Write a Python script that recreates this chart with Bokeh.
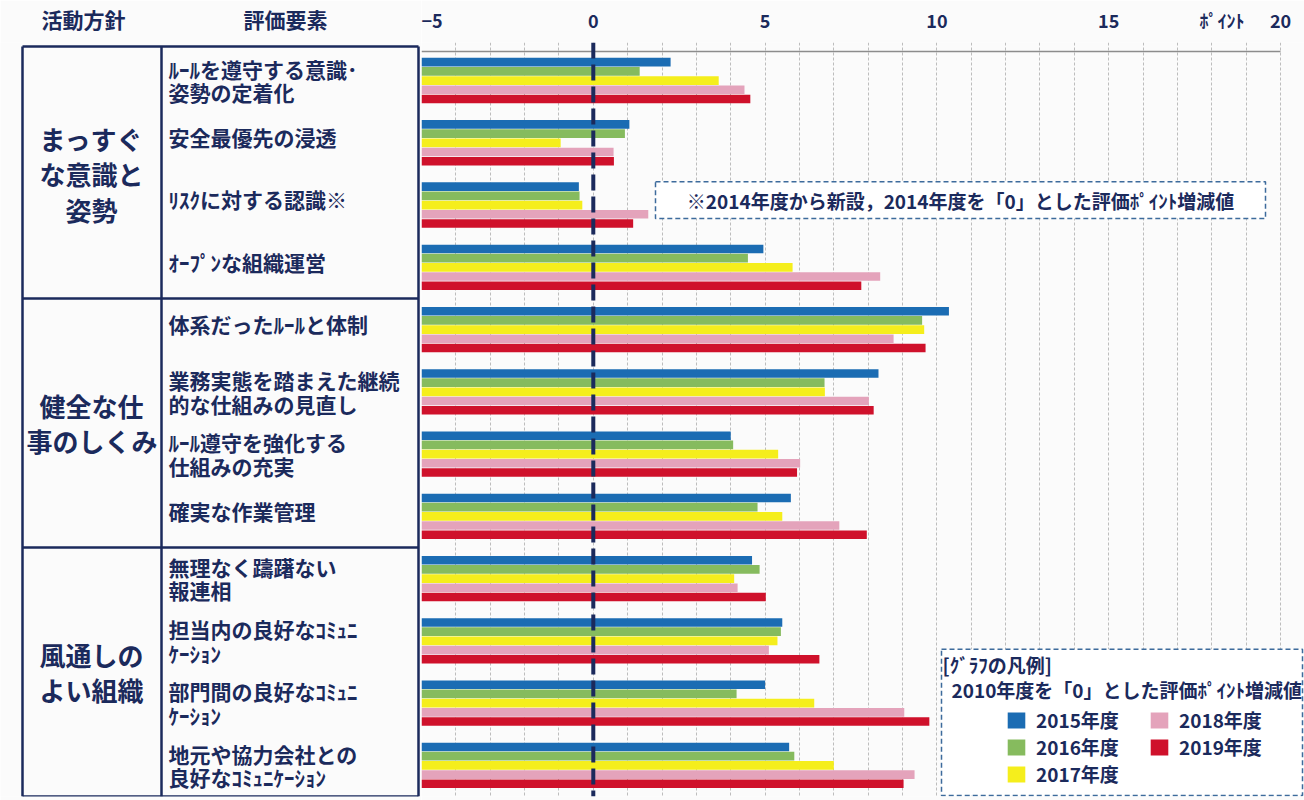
from bokeh.plotting import figure
from bokeh.models import Range1d, FixedTicker, Span, Legend, LegendItem, ColumnDataSource
from bokeh.transform import dodge
from bokeh.layouts import row
from bokeh.core.properties import value
from bokeh.embed import file_html
from bokeh.resources import INLINE

# ---------------- data ----------------
header_labels = ["活動方針", "評価要素"]
policies = ["まっすぐ\nな意識と\n姿勢", "健全な仕\n事のしくみ", "風通しの\nよい組織"]
policy_span = [4, 4, 4]
elements = [
    "ﾙｰﾙを遵守する意識･\n姿勢の定着化",
    "安全最優先の浸透",
    "ﾘｽｸに対する認識※",
    "ｵｰﾌﾟﾝな組織運営",
    "体系だったﾙｰﾙと体制",
    "業務実態を踏まえた継続\n的な仕組みの見直し",
    "ﾙｰﾙ遵守を強化する\n仕組みの充実",
    "確実な作業管理",
    "無理なく躊躇ない\n報連相",
    "担当内の良好なｺﾐｭﾆ\nｹｰｼｮﾝ",
    "部門間の良好なｺﾐｭﾆ\nｹｰｼｮﾝ",
    "地元や協力会社との\n良好なｺﾐｭﾆｹｰｼｮﾝ",
]
years = ["2015年度", "2016年度", "2017年度", "2018年度", "2019年度"]
v2015 = [2.25, 1.05, -0.42, 4.95, 10.35, 8.3, 4.0, 5.75, 4.62, 5.5, 5.0, 5.7]
v2016 = [1.35, 0.92, -0.40, 4.5, 9.57, 6.73, 4.07, 4.78, 4.84, 5.46, 4.17, 5.85]
v2017 = [3.65, -0.95, -0.32, 5.8, 9.63, 6.74, 5.38, 5.5, 4.1, 5.36, 6.43, 7.0]
v2018 = [4.4, 0.59, 1.6, 8.35, 8.74, 8.02, 6.02, 7.16, 4.2, 5.11, 9.05, 9.35]
v2019 = [4.57, 0.6, 1.16, 7.8, 9.67, 8.16, 5.93, 7.96, 5.02, 6.58, 9.78, 9.03]
series = [v2015, v2016, v2017, v2018, v2019]
ticks = [-5, 0, 5, 10, 15, 20]
unit_label = "ﾎﾟｲﾝﾄ"
note_text = "※2014年度から新設，2014年度を「0」とした評価ﾎﾟｲﾝﾄ増減値"
legend_title = ["[ｸﾞﾗﾌの凡例]", "2010年度を「0」とした評価ﾎﾟｲﾝﾄ増減値"]

# ---------------- style / layout ----------------
colors = ["#1b6cb3", "#86bb5e", "#f5ee1c", "#e4a3bb", "#cf112b"]
NAVY = "#1b2a5c"
FONT = value("Noto Sans CJK JP")
BG = "#fbfbfb"
W, H = 1304, 800
SPLIT = 421
X0, X1 = -5, 20
XPX0, XPX1 = 421, 1280
PXU = (XPX1 - XPX0) / (X1 - X0)
TOP, BOT = 45, 796          # pixel rows where category band -0.5 .. N-0.5 lies
TOPF = 38                   # top of drawing frame
N = len(elements)
ROW = (BOT - TOP) / N
BAR_STEP = 0.148
BAR_H = 0.138


def px2x(px):
    return X0 + (px - XPX0) / PXU


def px2y(py):
    return -0.5 + (py - TOP) / ROW


yr = Range1d(px2y(BOT), px2y(TOPF))

# ---------------- chart figure ----------------
p = figure(width=W - SPLIT, height=H, output_backend="svg", toolbar_location=None,
           x_range=Range1d(X0, px2x(W)), y_range=yr,
           x_axis_location="above", y_axis_location=None,
           min_border_top=TOPF, min_border_bottom=H - BOT, min_border_left=0, min_border_right=0,
           background_fill_color=BG, border_fill_color=BG, outline_line_color=None)
p.ygrid.visible = False
p.xgrid.ticker = FixedTicker(ticks=list(range(X0 + 1, X1 + 1)))
p.xgrid.grid_line_color = "#bdbdbd"
p.xgrid.grid_line_width = 1
p.xgrid.grid_line_dash = "3 2"

ax = p.xaxis[0]
ax.ticker = FixedTicker(ticks=ticks + [18.3])
ax.major_label_overrides = {18.3: unit_label}
ax.axis_line_color = None
ax.major_tick_line_color = None
ax.minor_tick_line_color = None
ax.major_label_standoff = 4
ax.major_label_text_font = "Noto Sans CJK JP"
ax.major_label_text_font_style = "bold"
ax.major_label_text_font_size = "18px"
ax.major_label_text_color = NAVY

src = ColumnDataSource(dict(idx=list(range(N)), **{f"s{i}": s for i, s in enumerate(series)}))
renderers = []
for i, col in enumerate(colors):
    off = (i - 2) * BAR_STEP
    r = p.hbar(y=dodge("idx", off, range=p.y_range), left=X0, right=f"s{i}", height=BAR_H,
               fill_color=col, line_color=None, source=src)
    renderers.append(r)

# top border of plot area
p.segment(x0=[X0], x1=[X1], y0=[px2y(47)], y1=[px2y(47)], line_color="#8c8c8c", line_width=1.5)

p.add_layout(Span(location=0, dimension="height", line_color=NAVY, line_width=4, line_dash="16 6"))

# note box
p.quad(left=[px2x(655)], right=[px2x(1265)], top=[px2y(178)], bottom=[px2y(215)],
       fill_color="white", line_color="#3d6b9c", line_dash="5 3", line_width=1.5)
p.text(x=[px2x(960)], y=[px2y(197)], text=[note_text], text_align="center", text_baseline="middle",
       text_font=FONT, text_font_style="bold", text_font_size="19px", text_color=NAVY)

# legend box
p.quad(left=[px2x(941)], right=[px2x(1302)], top=[px2y(648)], bottom=[px2y(795)],
       fill_color="white", line_color="#3d6b9c", line_dash="5 3", line_width=1.5)
p.text(x=[px2x(942), px2x(951)], y=[px2y(663), px2y(688)], text=legend_title,
       text_align="left", text_baseline="middle",
       text_font=FONT, text_font_style="bold", text_font_size="19px", text_color=NAVY)

legend = Legend(items=[LegendItem(label=years[i], renderers=[renderers[i]]) for i in range(len(years))],
                nrows=3, location=(1005 - XPX0, 9), padding=0, margin=0, spacing=0,
                glyph_width=22, glyph_height=20, label_standoff=9, label_width=112, label_height=20,
                label_text_font="Noto Sans CJK JP", label_text_font_style="bold",
                label_text_font_size="19px", label_text_color=NAVY,
                background_fill_alpha=0, border_line_alpha=0)
p.add_layout(legend)

# ---------------- table figure ----------------
t = figure(width=SPLIT, height=H, output_backend="svg", toolbar_location=None,
           x_range=Range1d(0, SPLIT), y_range=yr,
           x_axis_location="above", y_axis_location=None,
           min_border_top=TOPF, min_border_bottom=H - BOT, min_border_left=0, min_border_right=0,
           background_fill_color=BG, border_fill_color=BG, outline_line_color=None)
t.grid.visible = False
tax = t.xaxis[0]
tax.ticker = FixedTicker(ticks=[83, 285])
tax.major_label_overrides = {83: header_labels[0], 285: header_labels[1]}
tax.axis_line_color = None
tax.major_tick_line_color = None
tax.minor_tick_line_color = None
tax.major_label_standoff = 3
tax.major_label_text_font = "Noto Sans CJK JP"
tax.major_label_text_font_style = "bold"
tax.major_label_text_font_size = "21px"
tax.major_label_text_color = NAVY

bounds = [-0.5]
for s in policy_span:
    bounds.append(bounds[-1] + s)
ytop = px2y(42)
hy = [ytop] + bounds[1:]
t.segment(x0=[22] * len(hy), x1=[418] * len(hy), y0=hy, y1=hy, line_color=NAVY, line_width=2.5)
t.segment(x0=[22, 161, 418], x1=[22, 161, 418], y0=[ytop] * 3, y1=[bounds[-1]] * 3,
          line_color=NAVY, line_width=2.5)

pol_y = [(bounds[i] + bounds[i + 1]) / 2 for i in range(len(policies))]
t.text(x=[91] * len(policies), y=pol_y, text=policies, text_align="center", text_baseline="middle",
       text_font=FONT, text_font_style="bold", text_font_size="26px", text_color=NAVY,
       text_line_height=0.96)

elem_y = [i - (0.0 if "\n" in e else 0.09) for i, e in enumerate(elements)]
t.text(x=[168] * N, y=elem_y, text=elements, text_align="left", text_baseline="middle",
       text_font=FONT, text_font_style="bold", text_font_size="21px", text_color=NAVY,
       text_line_height=0.78)

layout = row(t, p, spacing=0)
open("out.html", "w").write(file_html(layout, INLINE))
